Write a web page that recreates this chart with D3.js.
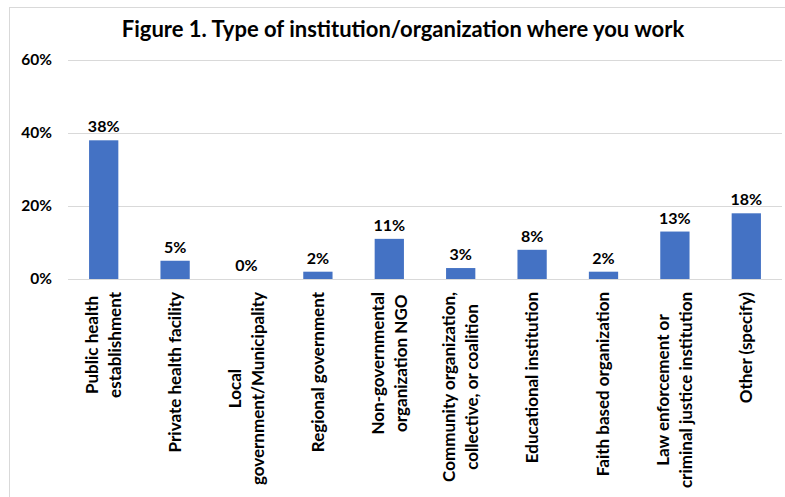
<!DOCTYPE html>
<html>
<head>
<meta charset="utf-8">
<script src="https://cdn.jsdelivr.net/npm/d3@7"></script>
<style>
  html, body { margin: 0; padding: 0; background: #fff; }
  svg { display: block; font-family: Lato, "Open Sans", sans-serif; }
</style>
</head>
<body>
<svg id="chart" width="785" height="497"></svg>
<script>
// Survey responses: type of institution/organization where respondents work
const categories = [
  ["Public health", "establishment"],
  ["Private health facility"],
  ["Local", "government/Municipality"],
  ["Regional government"],
  ["Non-governmental", "organization NGO"],
  ["Community organization,", "collective, or coalition"],
  ["Educational institution"],
  ["Faith based organization"],
  ["Law enforcement or", "criminal justice institution"],
  ["Other (specify)"]
];
const shares = [0.38, 0.05, 0.00, 0.02, 0.11, 0.03, 0.08, 0.02, 0.13, 0.18];
const yTicks = [0, 0.2, 0.4, 0.6];
const titleText = "Figure 1. Type of institution/organization where you work";

const svg = d3.select("#chart");
const W = 785, H = 497;
const plot = { left: 68, right: 782, top: 60, bottom: 279 };

// Chart area border
svg.append("rect")
  .attr("x", 9.5).attr("y", 7.5)
  .attr("width", W).attr("height", H)
  .attr("fill", "none").attr("stroke", "#d9d9d9").attr("stroke-width", 1);

// Title
svg.append("text")
  .attr("x", 403).attr("y", 37)
  .attr("text-anchor", "middle")
  .attr("font-size", 22).attr("font-weight", 700)
  .attr("fill", "#000")
  .text(titleText);

const x = d3.scaleBand()
  .domain(d3.range(categories.length))
  .range([plot.left, plot.right])
  .padding(0);
const barW = x.bandwidth() * 0.41;

const y = d3.scaleLinear().domain([0, 0.6]).range([plot.bottom, plot.top]);

// Horizontal gridlines and y axis labels
const yAxis = d3.axisLeft(y)
  .tickValues(yTicks)
  .tickFormat(d3.format(".0%"))
  .tickSize(-(plot.right - plot.left))
  .tickPadding(16);
const gy = svg.append("g")
  .attr("transform", `translate(${plot.left},0)`)
  .call(yAxis);
gy.select(".domain").remove();
gy.selectAll(".tick line").attr("stroke", "#d9d9d9").attr("stroke-width", 1)
  .attr("shape-rendering", "crispEdges");
gy.selectAll(".tick text")
  .attr("font-family", "Lato, sans-serif")
  .attr("font-size", 15.5).attr("font-weight", 700).attr("fill", "#000");

// Bars
svg.append("g").selectAll("rect")
  .data(shares)
  .join("rect")
  .attr("x", (d, i) => x(i) + (x.bandwidth() - barW) / 2)
  .attr("width", barW)
  .attr("y", d => y(d))
  .attr("height", d => y(0) - y(d))
  .attr("fill", "#4472c4");

// Value labels
svg.append("g").selectAll("text")
  .data(shares)
  .join("text")
  .attr("x", (d, i) => x(i) + x.bandwidth() / 2)
  .attr("y", d => y(d) - 8)
  .attr("text-anchor", "middle")
  .attr("font-size", 16).attr("font-weight", 700).attr("fill", "#000")
  .text(d => d3.format(".0%")(d));

// Rotated category labels; lines centered within the block, block ends at the axis
const lineGap = 23;
const labelTop = 292;
categories.forEach((lines, i) => {
  const cx = x(i) + x.bandwidth() / 2;
  const g = svg.append("g")
    .attr("transform", `translate(${cx},${labelTop}) rotate(-90)`);
  const texts = lines.map((ln, k) => g.append("text")
    .attr("font-size", 17).attr("font-weight", 700).attr("fill", "#000")
    .attr("text-anchor", "middle")
    .attr("dy", "0.35em")
    .attr("y", (k - (lines.length - 1) / 2) * lineGap)
    .text(ln));
  const maxLen = d3.max(texts, t => t.node().getComputedTextLength());
  texts.forEach(t => t.attr("x", -maxLen / 2));
});
</script>
</body>
</html>
